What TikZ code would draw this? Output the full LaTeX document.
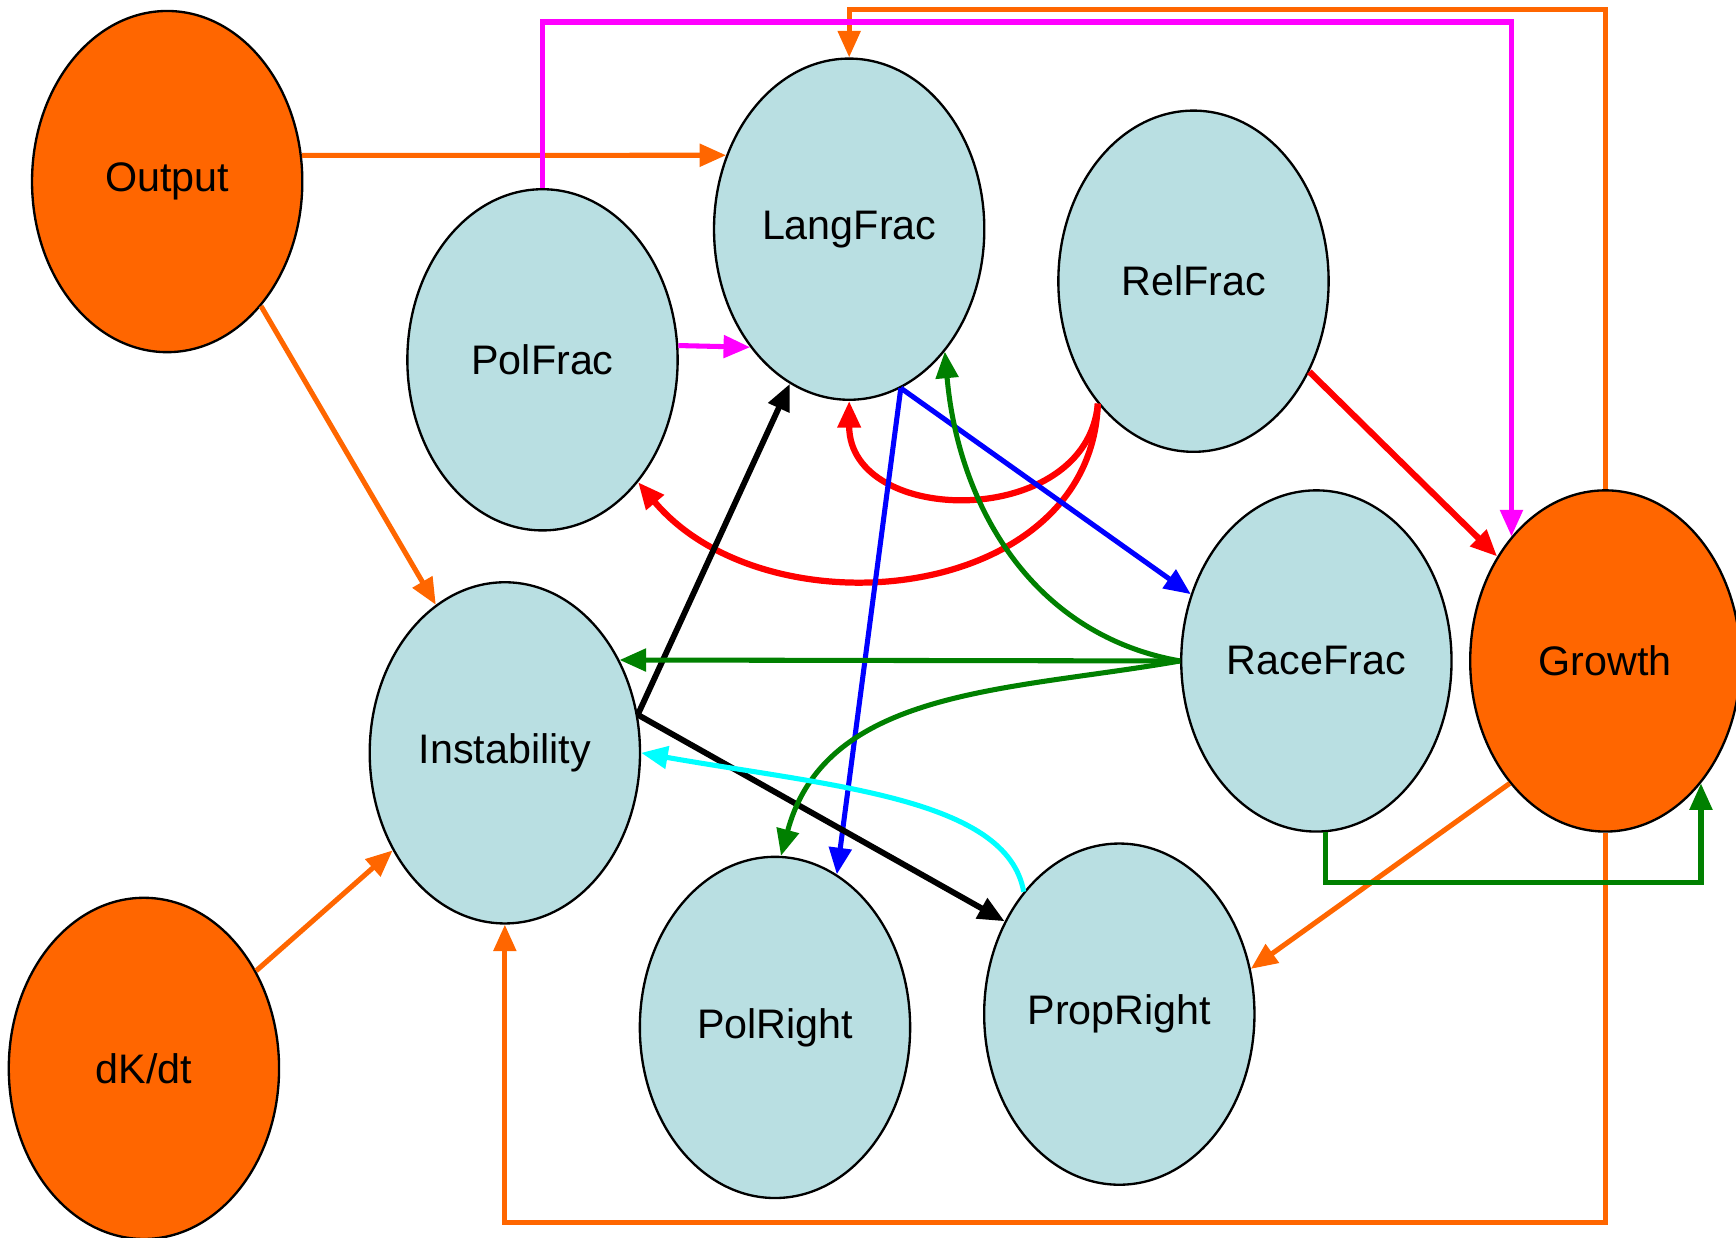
\documentclass[tikz,border=0pt]{standalone}
\usepackage{fontspec}
\setmainfont{Liberation Sans}
\usepackage{xcolor}
\usetikzlibrary{arrows.meta}
\usetikzlibrary{shapes.geometric}

\definecolor{nodeblue}{HTML}{B9DFE2}
\definecolor{nodeorange}{HTML}{FF6600}
\definecolor{linegreen}{RGB}{0,128,0}
\definecolor{linemagenta}{RGB}{255,0,255}
\definecolor{linecyan}{RGB}{0,255,255}
\definecolor{linered}{RGB}{255,0,0}
\definecolor{lineblue}{RGB}{0,0,255}

\begin{document}
\begin{tikzpicture}[x=0.01cm, y=0.01cm,
  var/.style={ellipse, draw=black, line width=0.6pt, minimum width=2.44cm,
    minimum height=3.08cm, inner sep=0pt, font=\fontsize{10.6}{12}\selectfont},
  frac/.style={var, fill=nodeblue},
  ext/.style={var, fill=nodeorange},
  link/.style={-{Triangle[length=0.24cm, width=0.2cm]}, line width=1.3pt},
]
\useasboundingbox (0,0) rectangle (1568,-1118);

 %nodes:
 \node[ext]  (out)  at (151,-164)  {Output};
 \node[ext]  (dk)   at (130,-965)  {dK/dt};
 \node[frac] (pol)  at (490,-325)  {PolFrac};
 \node[frac] (lang) at (767,-207)  {LangFrac};
 \node[frac] (rel)  at (1078,-254) {RelFrac};
 \node[frac] (inst) at (456,-680)  {Instability};
 \node[frac] (race) at (1189,-597) {RaceFrac};
 \node[ext]  (grow) at (1450,-597) {Growth};
 \node[frac] (polr) at (700,-928)  {PolRight};
 \node[frac] (prop) at (1011,-916) {PropRight};

 %orange links:
 \draw[link, nodeorange] (out.11) -- (lang.149);
 \draw[link, nodeorange] (out.-53) -- (inst.115);
 \draw[link, nodeorange] (dk.41) -- (inst.221);
 \draw[link, nodeorange] (grow.south) -- ++(0,-352) -| (inst.south);
 \draw[link, nodeorange] (grow.north) -- ++(0,433) -| (lang.north);
 \draw[link, nodeorange] (grow.232) -- (prop.19);

 %magenta:
 \draw[link, linemagenta] (pol.6) -- (lang.230);
 \draw[link, linemagenta] (pol.north) -- ++(0,150) -| (grow.127);

 %red:
 \draw[link, linered, line width=1.6pt] (rel.-38) -- (grow.136);
 \draw[link, linered, line width=1.6pt] (rel.232) to[out=-95, in=-90, looseness=1.3] (lang.south);
 \draw[link, linered, line width=1.6pt] (rel.232) to[out=-92, in=-50, looseness=1.1] (pol.-52);

 %blue:
 \draw[link, lineblue] (lang.-72) -- (race.152);
 \draw[link, lineblue] (lang.-72) -- (polr.68);

 %black:
 \draw[link, line width=1.5pt] (inst.16) -- (lang.249);
 \draw[link, line width=1.5pt] (inst.16) -- (prop.141);

 %green:
 \draw[link, linegreen] (race.west) -- (inst.39);
 \draw[link, linegreen] (race.west) to[out=170, in=-85] (lang.-52);
 \draw[link, linegreen] (race.west) to[out=190, in=75] (polr.88);
 \draw[link, linegreen] (race.-87) -- ++(0,-45) -| (grow.-52);

 %cyan:
 \draw[link, linecyan] (prop.128) to[out=100, in=-10, out looseness=0.6, in looseness=1.2] (inst.east);

\end{tikzpicture}
\end{document}
